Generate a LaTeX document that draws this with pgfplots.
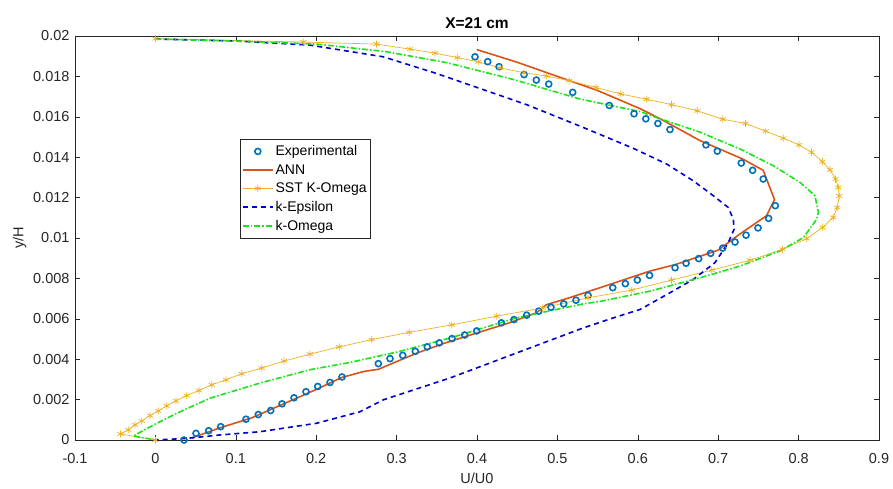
\documentclass[border=0pt]{standalone}
\usepackage{fontspec}
\setmainfont{Liberation Sans}
\usepackage{pgfplots}
\pgfplotsset{compat=1.18}
\definecolor{axgray}{RGB}{38,38,38}
\definecolor{mblue}{rgb}{0,0.447,0.741}
\definecolor{morange}{rgb}{0.85,0.325,0.098}
\definecolor{myellow}{rgb}{0.929,0.694,0.125}
\definecolor{kblue}{rgb}{0,0,0.8}
\definecolor{kgreen}{rgb}{0.1,0.9,0.1}
\newcommand{\fs}{\fontsize{14}{16}\selectfont}
\newcommand{\fst}{\fontsize{14.5}{16}\selectfont}
\begin{document}
\begin{tikzpicture}
\useasboundingbox (-75pt,-48pt) rectangle (818pt,440pt);
\begin{axis}[
  at={(0pt,0pt)}, anchor=south west,
  scale only axis, width=804pt, height=404pt,
  xmin=-0.1, xmax=0.9, ymin=0, ymax=0.02,
  xtick={-0.1,0,0.1,0.2,0.3,0.4,0.5,0.6,0.7,0.8,0.9},
  xticklabels={-0.1,0,0.1,0.2,0.3,0.4,0.5,0.6,0.7,0.8,0.9},
  ytick={0,0.002,0.004,0.006,0.008,0.01,0.012,0.014,0.016,0.018,0.02},
  yticklabels={0,0.002,0.004,0.006,0.008,0.01,0.012,0.014,0.016,0.018,0.02},
  scaled x ticks=false, scaled y ticks=false,
  tick align=inside, xtick pos=both, ytick pos=both,
  major tick length=5pt,
  axis line style={axgray, line width=0.6pt},
  tick style={axgray, line width=0.6pt},
  tick label style={font=\fst, text=axgray},
  xticklabel style={yshift=-10pt},
  yticklabel style={xshift=-2pt},
  label style={font=\fst, text=axgray},
  xlabel style={yshift=-2pt},
  xlabel={U/U0}, ylabel={y/H},
  title={\bfseries X=21 cm},
  title style={font=\fontsize{15.5}{17}\selectfont, text=black, yshift=-2pt},
  legend cell align=left,
  legend style={at={(0.205,0.744)}, anchor=north west, draw=axgray, fill=white,
    font=\fs, row sep=3.2pt, inner xsep=2pt, inner ysep=4pt},
  legend image code/.code={\draw[mark repeat=2,mark phase=2,#1] plot coordinates {(0pt,0pt) (15pt,0pt) (30pt,0pt)};},
]
\addplot[only marks, mark=o, mark size=3pt, mblue, line width=1.6pt] table {
0.0356 0.0000
0.0505 0.00033
0.0663 0.00046
0.0812 0.00066
0.1127 0.00103
0.1280 0.00126
0.1434 0.00146
0.1575 0.00179
0.1724 0.00209
0.1873 0.00239
0.2019 0.00265
0.2172 0.00285
0.2321 0.00312
0.2773 0.00378
0.2918 0.00403
0.3076 0.00419
0.3233 0.00439
0.3382 0.00461
0.3531 0.00481
0.3689 0.00502
0.3847 0.00520
0.3996 0.00540
0.4303 0.00580
0.4460 0.00596
0.4618 0.00618
0.4768 0.00638
0.4920 0.00657
0.5078 0.00674
0.5231 0.00692
0.5381 0.00716
0.5688 0.00754
0.5845 0.00774
0.5994 0.00792
0.6146 0.00815
0.6463 0.00853
0.6600 0.00875
0.6757 0.00898
0.6906 0.00924
0.7056 0.00950
0.7209 0.00980
0.7346 0.01014
0.7495 0.01050
0.7627 0.01097
0.7710 0.01160
0.7560 0.01292
0.7428 0.01335
0.7287 0.01371
0.6989 0.01430
0.6848 0.01461
0.6400 0.01537
0.6250 0.01567
0.6100 0.01590
0.5953 0.01615
0.5646 0.01656
0.5190 0.01721
0.4892 0.01762
0.4738 0.01782
0.4585 0.01809
0.4274 0.01848
0.4133 0.01873
0.3975 0.01897
};
\addlegendentry{Experimental}
\addplot[no markers, morange, line width=1.6pt] table {
0.045 0.0001
0.08 0.0006
0.12 0.0011
0.16 0.0018
0.20 0.0025
0.232 0.0031
0.26 0.0034
0.2773 0.0035
0.325 0.0043
0.36 0.0048
0.40 0.0053
0.44 0.0058
0.474 0.0063
0.4865 0.0067
0.5115 0.0070
0.553 0.00754
0.615 0.00836
0.648 0.0087
0.70 0.0094
0.727 0.0102
0.760 0.0111
0.770 0.0119
0.756 0.01335
0.731 0.0139
0.677 0.01483
0.628 0.0159
0.603 0.0164
0.55 0.0173
0.50 0.0180
0.45 0.0187
0.3995 0.01933
};
\addlegendentry{ANN}
\addplot[myellow, line width=0.7pt, mark=asterisk, mark size=3.5pt] table {
0.0000 0.01987
0.184 0.0197
0.275 0.0196
0.3167 0.01935
0.3478 0.01915
0.3756 0.01893
0.4017 0.01872
0.4287 0.01842
0.4585 0.01818
0.4866 0.01802
0.5148 0.01779
0.548 0.01745
0.5787 0.01713
0.611 0.01687
0.642 0.0166
0.674 0.0163
0.7056 0.01588
0.734 0.01567
0.759 0.01529
0.781 0.01494
0.8005 0.01461
0.816 0.01425
0.8296 0.01378
0.839 0.01338
0.846 0.01292
0.8494 0.0125
0.8506 0.01209
0.848 0.01151
0.843 0.01102
0.8299 0.01052
0.810 0.00997
0.780 0.00944
0.7396 0.0089
0.692 0.00841
0.642 0.00792
0.5924 0.00742
0.5381 0.00704
0.4817 0.00654
0.4245 0.00613
0.3686 0.0057
0.3158 0.00533
0.269 0.00497
0.2287 0.00461
0.1923 0.00425
0.16 0.00391
0.1322 0.00356
0.1073 0.00328
0.0878 0.00298
0.07 0.00273
0.0542 0.00245
0.0389 0.0022
0.0256 0.00194
0.014 0.00169
0.0036 0.00144
-0.0067 0.00121
-0.017 0.00094
-0.0254 0.00075
-0.0337 0.0005
-0.0435 0.0003
0 0
};
\addlegendentry{SST K-Omega}
\addplot[no markers, kblue, line width=1.6pt, dash pattern=on 5pt off 4pt] table {
0 0.01985
0.101 0.01975
0.192 0.01955
0.2835 0.01897
0.35 0.01814
0.4037 0.0174
0.4618 0.0166
0.528 0.01554
0.5944 0.01444
0.636 0.01366
0.669 0.01283
0.694 0.01209
0.7125 0.01151
0.7188 0.01093
0.7197 0.01043
0.7125 0.00977
0.696 0.00878
0.669 0.00795
0.636 0.0072
0.6027 0.00646
0.5737 0.00610
0.5322 0.00555
0.4493 0.00431
0.3664 0.00307
0.2835 0.00199
0.2545 0.0014
0.2006 0.00083
0.1301 0.00041
0.0803 0.00025
0.0389 0.00008
0 0
};
\addlegendentry{k-Epsilon}
\addplot[no markers, kgreen, line width=1.6pt, dash pattern=on 6pt off 2pt on 1.5pt off 2pt] table {
0 0.01985
0.101 0.01975
0.2006 0.0196
0.2876 0.01922
0.3624 0.01868
0.445 0.01785
0.528 0.01688
0.6027 0.01626
0.6276 0.0159
0.6774 0.01524
0.727 0.01441
0.7685 0.01358
0.8018 0.01275
0.8204 0.01209
0.8246 0.01126
0.8225 0.01093
0.806 0.01002
0.7769 0.00936
0.727 0.00861
0.6774 0.00803
0.6152 0.00737
0.553 0.00686
0.5322 0.00674
0.4493 0.00605
0.4078 0.00555
0.3664 0.00505
0.3042 0.00439
0.242 0.00384
0.1923 0.00348
0.1301 0.00282
0.0679 0.00207
0.027 0.00133
-0.002 0.00075
-0.0275 0.0002
0 0
};
\addlegendentry{k-Omega}
\end{axis}
\end{tikzpicture}
\end{document}
